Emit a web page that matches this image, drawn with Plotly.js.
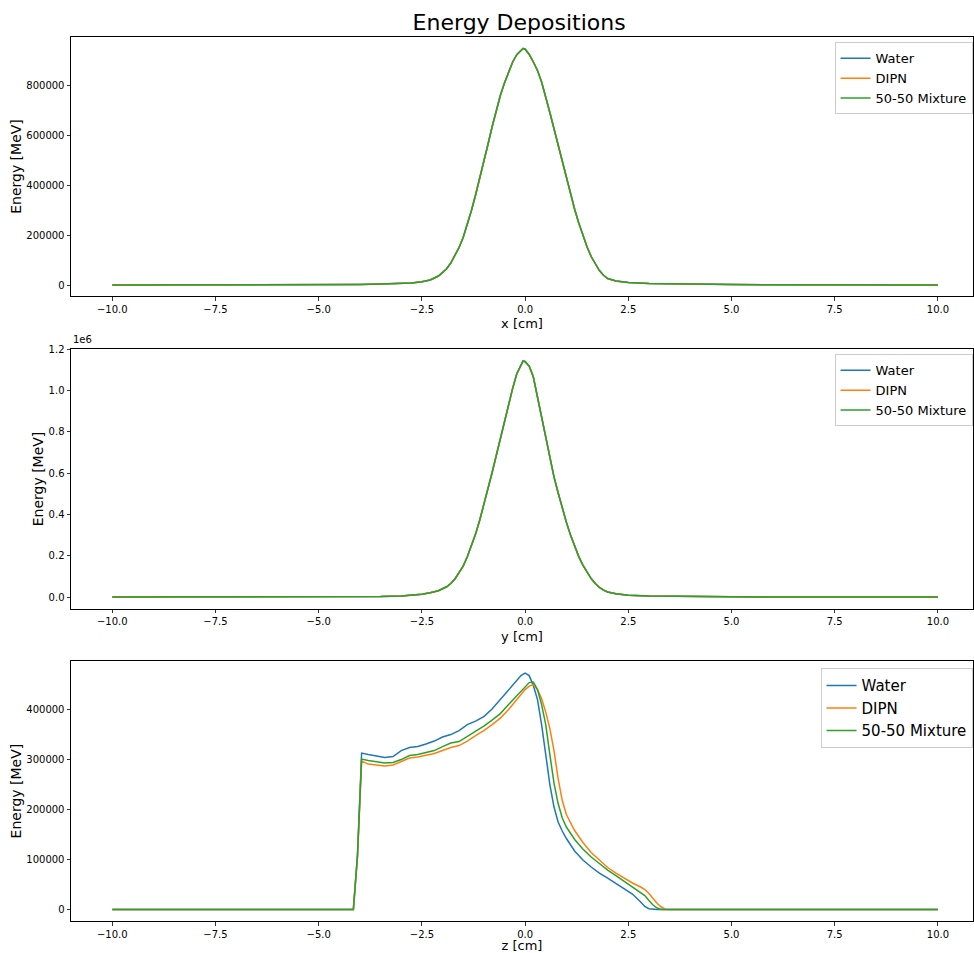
<!DOCTYPE html>
<html>
<head>
<meta charset="utf-8">
<script src="https://cdn.plot.ly/plotly-3.0.1.min.js"></script>
<style>
  html, body { margin: 0; padding: 0; background: #fff; }
  #chart { width: 974px; height: 953px; }
</style>
</head>
<body>
<div id="chart"></div>
<script>
// Transverse positions (cm) for the x and y profiles
const transPos = [-10, -8, -6, -5, -4.5, -4, -3.5, -3, -2.75, -2.5, -2.3, -2.1, -1.9, -1.8, -1.7, -1.6, -1.5, -1.4, -1.3, -1.2, -1.1, -1.0, -0.9, -0.8, -0.7, -0.6, -0.5, -0.4, -0.3, -0.2, -0.1, -0.05, 0.0, 0.1, 0.2, 0.3, 0.4, 0.5, 0.6, 0.7, 0.8, 0.9, 1.0, 1.1, 1.2, 1.3, 1.4, 1.5, 1.6, 1.7, 1.8, 1.9, 2.0, 2.2, 2.5, 3.0, 3.5, 4, 5, 6, 8, 10];

// Energy deposited along x (MeV)
const depXWater = [0, 200, 600, 1200, 1800, 2500, 3800, 6000, 8500, 13000, 20000, 36000, 65000, 88000, 117000, 150000, 190000, 240000, 298000, 360000, 425000, 493000, 562000, 632000, 700000, 758000, 808000, 853000, 893000, 922000, 940000, 947000, 944000, 922000, 892000, 858000, 812000, 755000, 690000, 625000, 560000, 492000, 425000, 362000, 303000, 248000, 197000, 153000, 114000, 83000, 58000, 39000, 26000, 16000, 10000, 6000, 4200, 3000, 1800, 1000, 400, 100];
const depXDipn  = [0, 200, 600, 1200, 1800, 2500, 3800, 6000, 8500, 13000, 20000, 36000, 65000, 88000, 117000, 150000, 190000, 240000, 298000, 360000, 425000, 493000, 562000, 632000, 700000, 758000, 808000, 853000, 892000, 921000, 939000, 945000, 943000, 922000, 892000, 858000, 812000, 755000, 690000, 625000, 560000, 492000, 425000, 362000, 303000, 248000, 197000, 153000, 114000, 83000, 58000, 39000, 26000, 16000, 10000, 6000, 4200, 3000, 1800, 1000, 400, 100];
const depXMix   = [0, 200, 600, 1200, 1800, 2500, 3800, 6000, 8500, 13000, 20000, 36000, 65000, 88000, 117000, 150000, 190000, 240000, 298000, 360000, 425000, 493000, 562000, 632000, 700000, 758000, 808000, 853000, 892000, 921000, 940000, 946000, 943000, 922000, 892000, 858000, 812000, 755000, 690000, 625000, 560000, 492000, 425000, 362000, 303000, 248000, 197000, 153000, 114000, 83000, 58000, 39000, 26000, 16000, 10000, 6000, 4200, 3000, 1800, 1000, 400, 100];

// Energy deposited along y (MeV)
const depYWater = [100, 300, 600, 1000, 1500, 2200, 3500, 6000, 9000, 14000, 21000, 31000, 50000, 66000, 88000, 116000, 150000, 195000, 247000, 305000, 372000, 446000, 522000, 602000, 684000, 768000, 852000, 933000, 1012000, 1082000, 1128000, 1144000, 1140000, 1118000, 1065000, 965000, 868000, 765000, 665000, 582000, 505000, 432000, 362000, 300000, 245000, 196000, 155000, 120000, 90000, 66000, 47000, 34000, 25000, 16000, 9500, 5500, 3800, 2800, 1600, 900, 400, 100];
const depYDipn  = [100, 300, 600, 1000, 1500, 2200, 3500, 6000, 9000, 14000, 21000, 31000, 50000, 66000, 88000, 116000, 150000, 195000, 247000, 305000, 372000, 446000, 522000, 602000, 684000, 768000, 852000, 932000, 1010000, 1080000, 1126000, 1141000, 1139000, 1117000, 1065000, 965000, 868000, 765000, 665000, 582000, 505000, 432000, 362000, 300000, 245000, 196000, 155000, 120000, 90000, 66000, 47000, 34000, 25000, 16000, 9500, 5500, 3800, 2800, 1600, 900, 400, 100];
const depYMix   = [100, 300, 600, 1000, 1500, 2200, 3500, 6000, 9000, 14000, 21000, 31000, 50000, 66000, 88000, 116000, 150000, 195000, 247000, 305000, 372000, 446000, 522000, 602000, 684000, 768000, 852000, 932000, 1011000, 1081000, 1127000, 1142000, 1139000, 1117000, 1065000, 965000, 868000, 765000, 665000, 582000, 505000, 432000, 362000, 300000, 245000, 196000, 155000, 120000, 90000, 66000, 47000, 34000, 25000, 16000, 9500, 5500, 3800, 2800, 1600, 900, 400, 100];

// Depth positions (cm) for the z profile
const depthPos = [-10, -4.16, -4.06, -3.96, -3.8, -3.6, -3.4, -3.2, -3.0, -2.8, -2.6, -2.4, -2.2, -2.0, -1.8, -1.6, -1.4, -1.2, -1.0, -0.8, -0.6, -0.4, -0.3, -0.2, -0.1, 0.0, 0.1, 0.2, 0.3, 0.4, 0.5, 0.6, 0.7, 0.8, 0.9, 1.0, 1.2, 1.4, 1.6, 1.8, 2.0, 2.2, 2.4, 2.6, 2.8, 2.9, 3.0, 3.1, 3.2, 3.3, 3.4, 3.5, 10];

// Energy deposited along z (MeV)
const depZWater = [0, 0, 110000, 313000, 310000, 307000, 304000, 306000, 318000, 324000, 326000, 331000, 337000, 345000, 350000, 358000, 370000, 377000, 386000, 401000, 420000, 438000, 448000, 458000, 468000, 473000, 468000, 448000, 420000, 370000, 310000, 250000, 205000, 175000, 157000, 142000, 117000, 99000, 85000, 73000, 63000, 52000, 42000, 31000, 15000, 6000, 1500, 0, 0, 0, 0, 0, 0];
const depZDipn  = [0, 0, 105000, 297000, 291000, 289000, 287000, 289000, 296000, 303000, 305000, 309000, 312000, 318000, 324000, 328000, 337000, 348000, 358000, 370000, 383000, 400000, 410000, 420000, 430000, 440000, 447000, 450000, 440000, 422000, 395000, 362000, 318000, 262000, 218000, 190000, 158000, 134000, 114000, 99000, 84000, 73000, 63000, 53000, 45000, 40000, 32000, 22000, 12000, 5000, 500, 0, 0];
const depZMix   = [0, 0, 107000, 301000, 298000, 295000, 293000, 294000, 300000, 308000, 310000, 314000, 318000, 326000, 333000, 336000, 346000, 356000, 367000, 379000, 392000, 410000, 419000, 428000, 438000, 447000, 454000, 455000, 440000, 410000, 370000, 310000, 253000, 212000, 183000, 165000, 140000, 121000, 105000, 92000, 79000, 68000, 57000, 46000, 35000, 28000, 18000, 9000, 3000, 0, 0, 0, 0];

const seriesNames = ['Water', 'DIPN', '50-50 Mixture'];
const seriesColors = ['#1f77b4', '#ff7f0e', '#2ca02c'];

const posTickVals = [-10, -7.5, -5, -2.5, 0, 2.5, 5, 7.5, 10];
const posTickText = ['\u221210.0', '\u22127.5', '\u22125.0', '\u22122.5', '0.0', '2.5', '5.0', '7.5', '10.0'];

const xEnergyTicks = [0, 200000, 400000, 600000, 800000];
const xEnergyText = ['0', '200000', '400000', '600000', '800000'];
const yEnergyTicks = [0, 200000, 400000, 600000, 800000, 1000000, 1200000];
const yEnergyText = ['0.0', '0.2', '0.4', '0.6', '0.8', '1.0', '1.2'];
const zEnergyTicks = [0, 100000, 200000, 300000, 400000];
const zEnergyText = ['0', '100000', '200000', '300000', '400000'];

const FONT = 'DejaVu Sans, Liberation Sans, sans-serif';

function makeTraces(xs, ysList, xa, ya, legendId) {
  return ysList.map((ys, i) => ({
    type: 'scatter',
    mode: 'lines',
    x: xs,
    y: ys,
    name: seriesNames[i],
    xaxis: xa,
    yaxis: ya,
    legend: legendId,
    line: { color: seriesColors[i], width: 1.5 },
    hoverinfo: 'skip'
  }));
}

const traces = [].concat(
  makeTraces(transPos, [depXWater, depXDipn, depXMix], 'x', 'y', 'legend'),
  makeTraces(transPos, [depYWater, depYDipn, depYMix], 'x2', 'y2', 'legend2'),
  makeTraces(depthPos, [depZWater, depZDipn, depZMix], 'x3', 'y3', 'legend3')
);

function posAxis(anchor, label) {
  return {
    anchor: anchor,
    domain: [0, 1],
    range: [-11, 10.85],
    tickmode: 'array',
    tickvals: posTickVals,
    ticktext: posTickText,
    ticks: 'outside',
    ticklen: 3.5,
    tickwidth: 0.8,
    tickcolor: '#000',
    tickfont: { family: FONT, size: 10, color: '#000' },
    showline: true,
    mirror: true,
    linecolor: '#000',
    linewidth: 1,
    showgrid: false,
    zeroline: false,
    title: { text: label, font: { family: FONT, size: 13, color: '#000' }, standoff: 5 }
  };
}

function energyAxis(anchor, domain, range, vals, text) {
  return {
    anchor: anchor,
    domain: domain,
    range: range,
    tickmode: 'array',
    tickvals: vals,
    ticktext: text,
    ticks: 'outside',
    ticklen: 3.5,
    tickwidth: 0.8,
    tickcolor: '#000',
    tickfont: { family: FONT, size: 10, color: '#000' },
    showline: true,
    mirror: true,
    linecolor: '#000',
    linewidth: 1,
    showgrid: false,
    zeroline: false,
    title: { text: 'Energy [MeV]', font: { family: FONT, size: 14, color: '#000' }, standoff: 1 }
  };
}

function legendBox(yTop, size) {
  return {
    x: 0.9995,
    xanchor: 'right',
    y: yTop,
    yanchor: 'top',
    bgcolor: 'rgba(255,255,255,0.85)',
    bordercolor: '#cccccc',
    borderwidth: 1,
    itemwidth: 30,
    tracegroupgap: 0,
    font: { family: FONT, size: size, color: '#000' }
  };
}

const layout = {
  width: 974,
  height: 953,
  margin: { l: 71, r: 1, t: 37, b: 32 },
  paper_bgcolor: '#fff',
  plot_bgcolor: '#fff',
  font: { family: FONT, color: '#000' },
  title: {
    text: 'Energy Depositions',
    font: { family: FONT, size: 22, color: '#000' },
    x: 0.533,
    xref: 'container',
    xanchor: 'center',
    y: 0.977,
    yref: 'container',
    yanchor: 'middle'
  },
  xaxis: posAxis('y', 'x [cm]'),
  xaxis2: posAxis('y2', 'y [cm]'),
  xaxis3: posAxis('y3', 'z [cm]'),
  yaxis: energyAxis('x', [0.707, 1], [-44000, 992000], xEnergyTicks, xEnergyText),
  yaxis2: energyAxis('x2', [0.353, 0.647], [-57150, 1200150], yEnergyTicks, yEnergyText),
  yaxis3: energyAxis('x3', [0, 0.294], [-23000, 497000], zEnergyTicks, zEnergyText),
  legend: legendBox(0.994, 13),
  legend2: legendBox(0.641, 13),
  legend3: legendBox(0.286, 15),
  annotations: [{
    text: '1e6',
    xref: 'paper', yref: 'paper',
    x: 0, y: 0.6495,
    xanchor: 'left', yanchor: 'bottom',
    showarrow: false,
    font: { family: FONT, size: 10, color: '#000' }
  }]
};

Plotly.newPlot('chart', traces, layout, { staticPlot: true, displayModeBar: false });
</script>
</body>
</html>
